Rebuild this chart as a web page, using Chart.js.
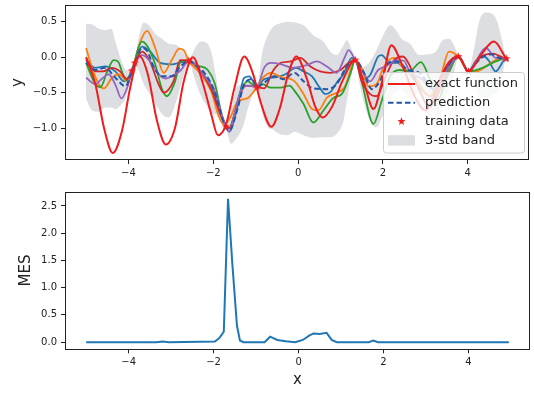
<!DOCTYPE html>
<html><head><meta charset="utf-8">
<script src="https://cdn.jsdelivr.net/npm/chart.js@4"></script>
<style>
html,body{margin:0;padding:0;background:#fff;}
#wrap{position:relative;width:534px;height:394px;overflow:hidden;}
#c1{position:absolute;left:0;top:0;}
#c2{position:absolute;left:0;top:180px;}
</style></head><body>
<div id="wrap"><canvas id="c1" width="534" height="180"></canvas><canvas id="c2" width="534" height="214"></canvas></div>
<script>
// ---------- data ----------
const xTicks = [-4, -2, 0, 2, 4];
const yTicksTop = [-1.0, -0.5, 0.0, 0.5];
const yTicksBottom = [0.0, 0.5, 1.0, 1.5, 2.0, 2.5];

const exactPts = [[-5.0,0.0],[-4.78,-0.38],[-4.58,-0.99],[-4.37,-1.35],[-4.15,-1.03],[-3.96,-0.43],[-3.75,0.02],[-3.54,-0.25],[-3.33,-0.89],[-3.12,-1.23],[-2.9,-0.99],[-2.7,-0.35],[-2.48,0.0],[-2.25,-0.36],[-2.05,-0.8],[-1.89,-1.10],[-1.70,-0.95],[-1.5,-0.43],[-1.27,0.01],[-1.07,-0.22],[-0.87,-0.66],[-0.63,-0.98],[-0.43,-0.72],[-0.23,-0.23],[-0.04,0.01],[0.2,-0.29],[0.4,-0.69],[0.58,-0.85],[0.8,-0.7],[1.05,-0.33],[1.35,-0.04],[1.55,-0.35],[1.78,-0.73],[2.0,-0.3],[2.2,0.17],[2.45,-0.1],[2.75,-0.55],[3.0,-0.75],[3.25,-0.5],[3.5,-0.12],[3.78,0.01],[4.02,-0.2],[4.3,0.02],[4.62,0.22],[4.91,-0.02],[4.95,-0.05]];

const predPts = [[-5.0,-0.08],[-4.78,-0.18],[-4.55,-0.15],[-4.31,-0.29],[-4.07,-0.41],[-3.92,-0.2],[-3.85,-0.08],[-3.68,0.13],[-3.55,0.08],[-3.41,-0.13],[-3.21,-0.27],[-2.98,-0.27],[-2.8,-0.15],[-2.58,-0.05],[-2.4,-0.12],[-2.21,-0.22],[-1.97,-0.48],[-1.74,-0.94],[-1.62,-1.03],[-1.42,-0.71],[-1.27,-0.38],[-1.07,-0.31],[-0.97,-0.42],[-0.8,-0.36],[-0.56,-0.27],[-0.33,-0.31],[-0.09,-0.22],[0.13,-0.34],[0.36,-0.44],[0.68,-0.45],[0.91,-0.38],[1.15,-0.13],[1.35,-0.04],[1.54,-0.2],[1.74,-0.45],[1.93,-0.34],[2.13,-0.08],[2.32,-0.06],[2.6,-0.18],[2.86,-0.22],[3.17,-0.43],[3.49,-0.15],[3.78,0.01],[4.02,-0.2],[4.2,-0.08],[4.43,0.03],[4.58,0.04],[4.74,-0.01],[4.91,-0.02],[4.95,-0.03]];

const sampleBlue = [[-5.0,-0.05],[-4.78,-0.15],[-4.55,-0.13],[-4.31,-0.2],[-4.11,-0.34],[-3.92,-0.2],[-3.68,0.15],[-3.49,0.08],[-3.25,-0.08],[-2.98,-0.1],[-2.8,-0.08],[-2.58,-0.05],[-2.3,-0.2],[-2.05,-0.4],[-1.8,-0.85],[-1.62,-1.05],[-1.45,-0.75],[-1.27,-0.29],[-1.15,-0.27],[-0.97,-0.42],[-0.8,-0.31],[-0.5,-0.28],[-0.3,-0.24],[-0.05,-0.15],[0.13,-0.2],[0.33,-0.27],[0.5,-0.42],[0.64,-0.52],[0.78,-0.48],[0.91,-0.36],[1.07,-0.24],[1.27,-0.01],[1.35,-0.04],[1.54,-0.3],[1.7,-0.25],[1.89,0.01],[1.97,0.03],[2.17,-0.08],[2.35,-0.08],[2.48,-0.15],[2.62,-0.22],[2.9,-0.45],[3.15,-0.55],[3.4,-0.3],[3.6,-0.05],[3.78,0.01],[4.02,-0.2],[4.2,-0.05],[4.39,0.01],[4.5,-0.05],[4.66,-0.2],[4.91,-0.02],[4.95,-0.02]];

const sampleOrange = [[-5.0,0.13],[-4.86,-0.15],[-4.7,-0.38],[-4.58,-0.44],[-4.39,-0.29],[-4.23,-0.24],[-4.03,-0.34],[-3.92,-0.2],[-3.72,0.22],[-3.56,0.37],[-3.37,0.13],[-3.17,-0.22],[-2.98,-0.04],[-2.8,0.12],[-2.7,0.1],[-2.58,-0.05],[-2.29,-0.24],[-2.05,-0.48],[-1.86,-0.85],[-1.75,-0.95],[-1.6,-0.85],[-1.42,-0.62],[-1.2,-0.58],[-0.97,-0.42],[-0.8,-0.27],[-0.64,-0.22],[-0.4,-0.28],[-0.1,-0.33],[0.13,-0.52],[0.33,-0.73],[0.48,-0.75],[0.68,-0.57],[0.91,-0.5],[1.1,-0.42],[1.27,-0.13],[1.35,-0.04],[1.5,-0.15],[1.66,-0.41],[1.85,-0.38],[2.01,-0.15],[2.25,-0.01],[2.48,-0.15],[2.78,-0.3],[3.1,-0.55],[3.35,-0.3],[3.56,0.08],[3.78,0.01],[4.02,-0.2],[4.2,-0.2],[4.43,-0.13],[4.66,-0.04],[4.91,-0.02],[4.95,-0.02]];

const sampleGreen = [[-5.0,-0.08],[-4.78,-0.38],[-4.66,-0.42],[-4.5,-0.2],[-4.35,-0.04],[-4.25,-0.06],[-4.11,-0.27],[-4.0,-0.34],[-3.92,-0.2],[-3.68,0.22],[-3.55,0.15],[-3.37,-0.1],[-3.21,-0.45],[-3.09,-0.55],[-2.9,-0.34],[-2.76,-0.05],[-2.58,-0.05],[-2.35,-0.12],[-2.13,-0.18],[-1.97,-0.36],[-1.78,-0.85],[-1.62,-1.0],[-1.5,-0.8],[-1.38,-0.52],[-1.19,-0.34],[-0.97,-0.42],[-0.84,-0.38],[-0.64,-0.43],[-0.41,-0.43],[-0.2,-0.4],[-0.1,-0.46],[0.13,-0.66],[0.36,-0.92],[0.6,-0.75],[0.84,-0.57],[1.03,-0.52],[1.23,-0.24],[1.35,-0.04],[1.5,-0.34],[1.78,-0.94],[1.97,-0.62],[2.17,-0.27],[2.4,-0.18],[2.62,-0.2],[2.9,-0.07],[3.1,-0.3],[3.3,-0.6],[3.5,-0.3],[3.78,0.01],[4.02,-0.2],[4.35,-0.15],[4.66,-0.06],[4.91,-0.02],[4.95,-0.02]];

const sampleRed = [[-5.0,-0.02],[-4.78,-0.2],[-4.6,-0.2],[-4.39,-0.15],[-4.2,-0.2],[-4.03,-0.31],[-3.92,-0.2],[-3.68,0.08],[-3.5,-0.05],[-3.29,-0.38],[-3.17,-0.5],[-2.94,-0.34],[-2.78,-0.04],[-2.58,-0.05],[-2.3,-0.2],[-2.05,-0.45],[-1.8,-0.85],[-1.62,-1.0],[-1.45,-0.7],[-1.25,-0.4],[-0.97,-0.42],[-0.8,-0.44],[-0.6,-0.2],[-0.41,-0.08],[-0.17,-0.06],[0.05,-0.01],[0.29,-0.13],[0.52,-0.2],[0.76,-0.22],[1.0,-0.18],[1.19,-0.08],[1.35,-0.04],[1.5,-0.34],[1.7,-0.52],[1.85,-0.55],[2.05,-0.3],[2.25,-0.05],[2.47,0.01],[2.62,-0.1],[2.85,-0.45],[3.1,-0.7],[3.35,-0.45],[3.6,-0.1],[3.78,0.01],[4.02,-0.2],[4.3,0.0],[4.6,0.05],[4.91,-0.02],[4.95,-0.02]];

const samplePurple = [[-5.0,-0.29],[-4.78,-0.38],[-4.62,-0.3],[-4.47,-0.24],[-4.3,-0.4],[-4.17,-0.58],[-4.03,-0.43],[-3.92,-0.2],[-3.68,0.03],[-3.5,-0.05],[-3.29,-0.24],[-3.13,-0.3],[-2.9,-0.24],[-2.76,-0.18],[-2.58,-0.05],[-2.21,-0.27],[-1.95,-0.5],[-1.75,-0.9],[-1.62,-1.05],[-1.5,-0.8],[-1.35,-0.48],[-1.15,-0.4],[-0.97,-0.42],[-0.8,-0.15],[-0.64,-0.08],[-0.4,-0.1],[-0.13,-0.15],[0.21,-0.11],[0.44,-0.06],[0.68,-0.13],[0.91,-0.22],[1.11,0.01],[1.19,0.1],[1.35,-0.04],[1.54,-0.22],[1.7,-0.34],[1.89,-0.18],[2.1,-0.12],[2.32,-0.04],[2.5,-0.05],[2.62,-0.19],[2.9,-0.3],[3.2,-0.45],[3.5,-0.2],[3.78,0.01],[4.02,-0.2],[4.2,-0.05],[4.43,0.13],[4.66,-0.01],[4.91,-0.02],[4.95,-0.02]];

const bandX = [-5.0,-4.86,-4.7,-4.55,-4.4,-4.31,-4.19,-4.05,-3.92,-3.85,-3.75,-3.64,-3.5,-3.37,-3.21,-3.05,-2.86,-2.72,-2.58,-2.44,-2.29,-2.15,-2.05,-1.93,-1.82,-1.7,-1.58,-1.46,-1.3,-1.15,-0.97,-0.84,-0.72,-0.6,-0.45,-0.25,-0.08,0.13,0.36,0.6,0.76,0.91,1.07,1.15,1.27,1.35,1.46,1.62,1.74,1.85,2.01,2.17,2.29,2.44,2.64,2.86,3.05,3.25,3.41,3.56,3.68,3.78,3.92,4.02,4.15,4.27,4.43,4.58,4.7,4.82,4.91,4.95];
const bandUpper = [0.47,0.46,0.40,0.38,0.40,0.22,-0.01,-0.18,-0.19,-0.05,0.30,0.49,0.44,0.33,0.26,0.19,0.17,0.08,-0.03,0.12,0.22,0.20,0.08,-0.29,-0.75,-0.97,-0.75,-0.43,-0.38,-0.36,-0.41,0.08,0.30,0.42,0.47,0.50,0.49,0.45,0.31,0.22,0.08,0.03,0.17,0.24,0.10,-0.03,-0.15,-0.11,-0.02,0.10,0.31,0.45,0.40,0.26,0.19,0.03,0.04,0.08,0.24,0.26,0.17,0.02,-0.10,-0.19,0.12,0.50,0.63,0.61,0.50,0.22,-0.01,0.05];
const bandLower = [-0.59,-0.75,-0.77,-0.71,-0.71,-0.73,-0.68,-0.55,-0.21,-0.10,-0.20,-0.38,-0.52,-0.65,-0.80,-0.85,-0.60,-0.30,-0.07,-0.30,-0.55,-0.68,-0.80,-0.80,-0.92,-1.00,-1.22,-1.15,-0.98,-0.66,-0.43,-0.80,-0.98,-1.02,-1.08,-1.10,-1.05,-1.10,-1.14,-1.13,-1.13,-1.08,-0.90,-0.62,-0.22,-0.05,-0.40,-0.78,-0.94,-0.99,-0.80,-0.60,-0.50,-0.46,-0.57,-0.50,-0.75,-0.92,-0.74,-0.46,-0.21,0.00,-0.14,-0.21,-0.32,-0.54,-0.57,-0.53,-0.50,-0.24,-0.03,-0.09];

const trainX = [-3.92, -3.85, -2.58, -1.70, -0.97, 1.35, 3.78, 4.02, 4.91];
const trainY = [-0.19, -0.08, -0.05, -0.98, -0.42, -0.04, 0.01, -0.20, -0.02];

const mesX = [-5.0,-3.35,-3.2,-3.05,-1.97,-1.87,-1.76,-1.66,-1.56,-1.45,-1.38,-1.3,-0.8,-0.67,-0.5,-0.3,-0.08,0.1,0.25,0.35,0.5,0.66,0.78,0.9,1.65,1.76,1.87,4.95];
const mesY = [0.0,0.0,0.01,0.0,0.01,0.07,0.19,2.63,1.45,0.3,0.03,0.0,0.0,0.1,0.04,0.015,0.0,0.04,0.12,0.16,0.15,0.17,0.04,0.0,0.0,0.03,0.0,0.0];

// ---------- helpers ----------
const FONT = "'DejaVu Sans', 'Liberation Sans', sans-serif";
const INK = '#222222';
const RED = '#f01c1c';
const PRED = '#2457a8';
const BAND = '#dddee1';
const pts = a => a.map(p => ({x: p[0], y: p[1]}));
const zip = (xs, ys) => xs.map((x, i) => ({x, y: ys[i]}));
const fmt = v => {
  const s = Math.abs(v) < 1e-9 ? (0).toFixed(1) : Number(v).toFixed(1);
  return s.replace('-', '\u2212');
};
const fmtInt = v => String(Math.round(v)).replace('-', '\u2212');

function makeStar(r, color) {
  const c = document.createElement('canvas');
  const s = Math.ceil(r * 2 + 2);
  c.width = s; c.height = s;
  const g = c.getContext('2d');
  g.fillStyle = color;
  g.beginPath();
  for (let i = 0; i < 10; i++) {
    const rad = i % 2 ? r * 0.42 : r;
    const a = -Math.PI / 2 + i * Math.PI / 5;
    g.lineTo(s / 2 + rad * Math.cos(a), s / 2 + rad * Math.sin(a));
  }
  g.closePath(); g.fill();
  return c;
}
const starImg = makeStar(4.3, RED);

const framePlugin = {
  id: 'frame',
  afterDatasetsDraw(chart) {
    const {ctx, chartArea: a} = chart;
    ctx.save();
    ctx.strokeStyle = INK; ctx.lineWidth = 1;
    ctx.strokeRect(Math.round(a.left) + 0.5, Math.round(a.top) + 0.5,
      Math.round(a.right - a.left) - 1, Math.round(a.bottom - a.top) - 1);
    ctx.restore();
  }
};

const legendPlugin = {
  id: 'mylegend',
  afterDraw(chart) {
    const ctx = chart.ctx;
    ctx.save();
    const x = 383.5, y = 72.5, w = 141, h = 80.5, r = 3;
    ctx.beginPath();
    ctx.moveTo(x + r, y); ctx.lineTo(x + w - r, y); ctx.arcTo(x + w, y, x + w, y + r, r);
    ctx.lineTo(x + w, y + h - r); ctx.arcTo(x + w, y + h, x + w - r, y + h, r);
    ctx.lineTo(x + r, y + h); ctx.arcTo(x, y + h, x, y + h - r, r);
    ctx.lineTo(x, y + r); ctx.arcTo(x, y, x + r, y, r); ctx.closePath();
    ctx.fillStyle = 'rgba(255,255,255,0.8)'; ctx.fill();
    ctx.strokeStyle = '#cccccc'; ctx.lineWidth = 1; ctx.stroke();
    const rows = [84, 102.7, 121.5, 140.2];
    const hx0 = 388, hx1 = 415;
    ctx.lineWidth = 2;
    ctx.strokeStyle = RED;
    ctx.beginPath(); ctx.moveTo(hx0, rows[0]); ctx.lineTo(hx1, rows[0]); ctx.stroke();
    ctx.strokeStyle = PRED; ctx.setLineDash([5.5, 3]);
    ctx.beginPath(); ctx.moveTo(hx0, rows[1]); ctx.lineTo(hx1, rows[1]); ctx.stroke();
    ctx.setLineDash([]);
    ctx.drawImage(starImg, 401.5 - starImg.width / 2, rows[2] - starImg.height / 2);
    ctx.fillStyle = BAND; ctx.fillRect(hx0, rows[3] - 5, hx1 - hx0, 10.5);
    ctx.fillStyle = INK; ctx.font = '13px ' + FONT; ctx.textBaseline = 'middle';
    const labels = ['exact function', 'prediction', 'training data', '3-std band'];
    labels.forEach((t, i) => ctx.fillText(t, 425, rows[i]));
    ctx.restore();
  }
};

function axisX(min, max, titleText, height) {
  return {
    type: 'linear', min, max,
    afterBuildTicks: s => { s.ticks = xTicks.map(v => ({value: v})); },
    afterFit: s => { s.height = height; s.paddingLeft = 0; s.paddingRight = 0; },
    grid: {display: true, drawOnChartArea: false, drawTicks: true, tickLength: 4, color: INK, tickColor: INK},
    border: {display: false},
    ticks: {color: INK, font: {family: FONT, size: 10}, padding: 3, maxRotation: 0, callback: v => fmtInt(v)},
    title: titleText ? {display: true, text: titleText, color: INK, font: {family: FONT, size: 15}, padding: {top: 0, bottom: 5}} : {display: false}
  };
}
function axisY(min, max, tickArr, titleText, titlePad) {
  return {
    type: 'linear', min, max,
    afterBuildTicks: s => { s.ticks = tickArr.map(v => ({value: v})); },
    afterFit: s => { s.width = 65; s.paddingTop = 0; s.paddingBottom = 0; },
    grid: {display: true, drawOnChartArea: false, drawTicks: true, tickLength: 4, color: INK, tickColor: INK},
    border: {display: false},
    ticks: {color: INK, font: {family: FONT, size: 10}, padding: 4, callback: v => fmt(v)},
    title: {display: true, text: titleText, color: INK, font: {family: FONT, size: 15}, padding: {top: titlePad, bottom: 0}}
  };
}

const lineDs = (label, data, color, width, order, extra) => Object.assign({
  label, data, borderColor: color, backgroundColor: color, borderWidth: width,
  pointRadius: 0, pointHoverRadius: 0, fill: false, cubicInterpolationMode: 'monotone', order
}, extra || {});

const XMIN = -5.4975, XMAX = 5.4475;

new Chart(document.getElementById('c1'), {
  type: 'line',
  data: {
    datasets: [
      lineDs('band upper', zip(bandX, bandUpper), BAND, 0, 20, {fill: '+1', backgroundColor: BAND}),
      lineDs('band lower', zip(bandX, bandLower), BAND, 0, 21, {backgroundColor: BAND}),
      lineDs('sample 1', pts(sampleBlue), '#1f77b4', 1.8, 9),
      lineDs('sample 2', pts(sampleOrange), '#ff7f0e', 1.8, 8),
      lineDs('sample 3', pts(sampleGreen), '#2ca02c', 1.8, 7),
      lineDs('sample 4', pts(sampleRed), '#d62728', 1.8, 6),
      lineDs('sample 5', pts(samplePurple), '#9467bd', 1.8, 5),
      lineDs('prediction', pts(predPts), PRED, 2, 2, {borderDash: [5.5, 3]}),
      lineDs('exact function', pts(exactPts), RED, 2, 1),
      {label: 'training data', data: zip(trainX, trainY), showLine: false, pointStyle: starImg,
       pointRadius: 4, borderColor: RED, backgroundColor: RED, order: 0}
    ]
  },
  options: {
    responsive: false, animation: false, devicePixelRatio: 1,
    layout: {padding: {top: 2.7, right: 4, left: 0, bottom: 0}},
    plugins: {legend: {display: false}, tooltip: {enabled: false}},
    events: [],
    scales: {
      x: axisX(XMIN, XMAX, null, 20),
      y: axisY(-1.449, 0.736, yTicksTop, 'y', 9)
    }
  },
  plugins: [framePlugin, legendPlugin]
});

new Chart(document.getElementById('c2'), {
  type: 'line',
  data: {
    datasets: [
      lineDs('MES', zip(mesX, mesY), '#1f77b4', 2, 1, {cubicInterpolationMode: 'default', tension: 0})
    ]
  },
  options: {
    responsive: false, animation: false, devicePixelRatio: 1,
    layout: {padding: {top: 11.7, right: 4, left: 0, bottom: 0}},
    plugins: {legend: {display: false}, tooltip: {enabled: false}},
    events: [],
    scales: {
      x: axisX(XMIN, XMAX, 'x', 44.7),
      y: axisY(-0.1315, 2.7615, yTicksBottom, 'MES', 17)
    }
  },
  plugins: [framePlugin]
});
</script>
</body></html>
